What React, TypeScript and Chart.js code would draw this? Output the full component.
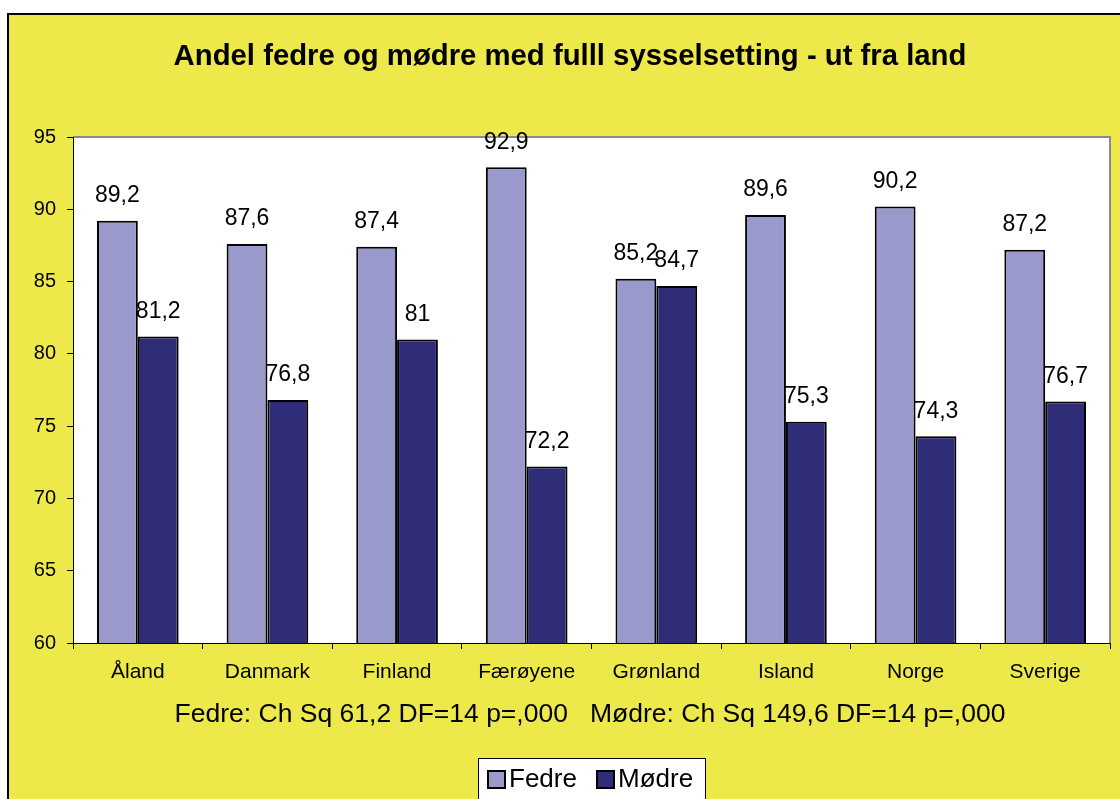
import React, { useEffect, useRef } from "react";
import { Chart, registerables } from "chart.js";

Chart.register(...registerables);

const categories = ["Åland", "Danmark", "Finland", "Færøyene", "Grønland", "Island", "Norge", "Sverige"];
const fedre = [89.2, 87.6, 87.4, 92.9, 85.2, 89.6, 90.2, 87.2];
const modre = [81.2, 76.8, 81, 72.2, 84.7, 75.3, 74.3, 76.7];
const seriesNames = ["Fedre", "Mødre"];
const titleText = "Andel fedre og mødre med fulll sysselsetting - ut fra land";
const subtitleText = "Fedre: Ch Sq 61,2 DF=14 p=,000   Mødre: Ch Sq 149,6 DF=14 p=,000";

const FONT = "Arial, 'Liberation Sans', sans-serif";
const YELLOW = "#EEE94A";
const C_FEDRE = "#9999CC";
const C_MODRE = "#2F2C78";

const fmt = (v: number) => String(v).replace(".", ",");

const decorPlugin = {
  id: "decor",
  beforeDraw(chart: any) {
    const ctx = chart.ctx;
    const { chartArea } = chart;
    ctx.save();
    ctx.fillStyle = "#ffffff";
    ctx.fillRect(0, 0, chart.width, chart.height);
    ctx.fillStyle = YELLOW;
    ctx.fillRect(8, 14, chart.width + 20, chart.height + 20);
    ctx.strokeStyle = "#000";
    ctx.lineWidth = 2;
    ctx.strokeRect(8, 14, chart.width + 20, chart.height + 20);
    ctx.fillStyle = "#ffffff";
    ctx.fillRect(chartArea.left, chartArea.top, chartArea.right - chartArea.left, chartArea.bottom - chartArea.top);
    ctx.strokeStyle = "#8a8a8a";
    ctx.lineWidth = 2;
    ctx.beginPath();
    ctx.moveTo(chartArea.left, chartArea.top);
    ctx.lineTo(chartArea.right, chartArea.top);
    ctx.lineTo(chartArea.right, chartArea.bottom);
    ctx.stroke();
    ctx.restore();
  },
  afterDraw(chart: any) {
    const ctx = chart.ctx;
    ctx.save();
    // title
    ctx.fillStyle = "#000";
    ctx.textAlign = "center";
    ctx.textBaseline = "middle";
    ctx.font = `bold 29.3px ${FONT}`;
    ctx.fillText(titleText, 570, 57);
    // subtitle
    ctx.font = `26.5px ${FONT}`;
    ctx.fillText(subtitleText, 590, 715);
    // data labels
    ctx.font = `23px ${FONT}`;
    chart.data.datasets.forEach((ds: any, i: number) => {
      const meta = chart.getDatasetMeta(i);
      meta.data.forEach((bar: any, j: number) => {
        ctx.fillText(fmt(ds.data[j]), bar.x, bar.y - 25);
      });
    });
    // legend
    ctx.fillStyle = "#fff";
    ctx.fillRect(478, 758, 227, 50);
    ctx.strokeStyle = "#000";
    ctx.lineWidth = 1;
    ctx.strokeRect(478.5, 758.5, 227, 50);
    const items = [
      { x: 488, label: chart.data.datasets[0].label, color: C_FEDRE },
      { x: 597, label: chart.data.datasets[1].label, color: C_MODRE },
    ];
    ctx.font = `26px ${FONT}`;
    ctx.textAlign = "left";
    items.forEach((it) => {
      ctx.fillStyle = it.color;
      ctx.fillRect(it.x, 771, 17, 17);
      ctx.strokeStyle = "#000";
      ctx.lineWidth = 2;
      ctx.strokeRect(it.x, 771, 17, 17);
      ctx.fillStyle = "#000";
      ctx.fillText(it.label, it.x + 21, 780);
    });
    ctx.restore();
  },
};

export default function App() {
  const ref = useRef<HTMLCanvasElement>(null);
  useEffect(() => {
    if (!ref.current) return;
    const chart = new Chart(ref.current, {
      type: "bar",
      data: {
        labels: categories,
        datasets: [
          { label: seriesNames[0], data: fedre, backgroundColor: C_FEDRE, borderColor: "#000", borderWidth: 2, borderSkipped: false },
          { label: seriesNames[1], data: modre, backgroundColor: C_MODRE, borderColor: "#000", borderWidth: 2, borderSkipped: false },
        ],
      },
      options: {
        animation: false,
        responsive: false,
        maintainAspectRatio: false,
        layout: { padding: { left: 0, right: 10, top: 137, bottom: 0 } },
        datasets: { bar: { categoryPercentage: 0.63, barPercentage: 1 } },
        plugins: { legend: { display: false }, title: { display: false }, tooltip: { enabled: false } },
        scales: {
          x: {
            grid: { drawOnChartArea: false, tickLength: 6, color: "#000", offset: true },
            border: { color: "#000", width: 1 },
            ticks: { color: "#000", font: { family: FONT, size: 21 }, padding: 11, maxRotation: 0 },
            afterFit: (s: any) => { s.height = 156; },
          },
          y: {
            min: 60,
            max: 95,
            ticks: { stepSize: 5, color: "#000", font: { family: FONT, size: 20 }, padding: 11 },
            grid: { drawOnChartArea: false, tickLength: 6, color: "#000" },
            border: { color: "#000", width: 1 },
            afterFit: (s: any) => { s.width = 73; },
          },
        },
      },
      plugins: [decorPlugin],
    });
    return () => chart.destroy();
  }, []);
  return (
    <div style={{ position: "absolute", left: 0, top: 0, width: 1120, height: 799 }}>
      <canvas ref={ref} width={1120} height={799} style={{ display: "block" }} />
    </div>
  );
}
